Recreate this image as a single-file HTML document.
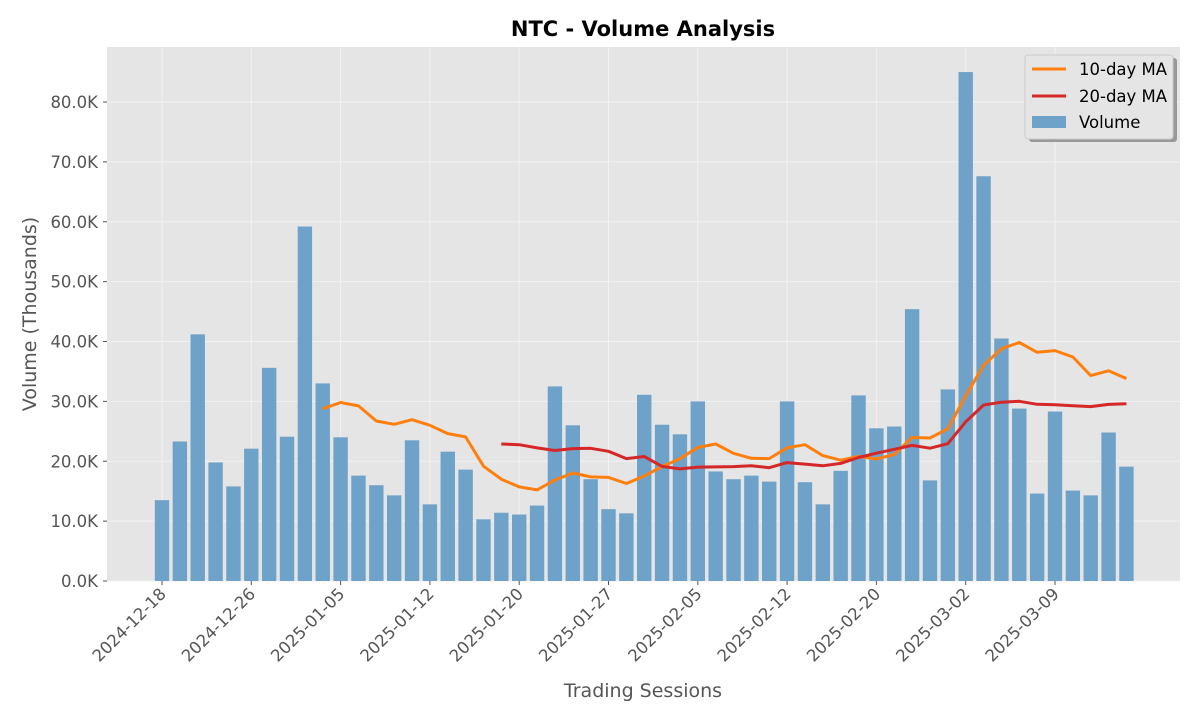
<!DOCTYPE html>
<html><head><meta charset="utf-8"><style>
html,body{margin:0;padding:0;background:#fff;}
svg{display:block;font-family:"DejaVu Sans","Liberation Sans",sans-serif;}
</style></head><body>
<svg id="chart" width="1200" height="720">
<rect x="107" y="47" width="1073" height="534" fill="#e5e5e5"/>
<g id="grid"></g><g id="bars"></g><g id="lines"></g><g id="axes"></g>
<text x="643" y="36" text-anchor="middle" font-size="21" font-weight="bold" fill="#000">NTC - Volume Analysis</text>
<text x="643" y="697" text-anchor="middle" font-size="19" fill="#555">Trading Sessions</text>
<text transform="translate(36,314) rotate(-90)" text-anchor="middle" font-size="19" fill="#555">Volume (Thousands)</text>
<g>
<rect x="1029" y="58" width="148" height="84" rx="3" fill="#999"/>
<rect x="1025" y="55" width="148" height="84" rx="3" fill="#e5e5e5" stroke="#ccc"/>
<line x1="1032" y1="69" x2="1066" y2="69" stroke="#ff7f0e" stroke-width="3"/>
<text x="1079" y="75" font-size="16.5" fill="#000">10-day MA</text>
<line x1="1032" y1="96" x2="1066" y2="96" stroke="#d62728" stroke-width="3"/>
<text x="1079" y="102" font-size="16.5" fill="#000">20-day MA</text>
<rect x="1032" y="116" width="34" height="12" fill="#6ea2c8"/>
<text x="1079" y="128" font-size="16.5" fill="#000">Volume</text>
</g>
</svg>
<script>
const volumes=[13.5,23.3,41.2,19.8,15.8,22.1,35.6,24.1,59.2,33.0,24.0,17.6,16.0,14.3,23.5,12.8,21.6,18.6,10.3,11.4,11.1,12.6,32.5,26.0,17.0,12.0,11.3,31.1,26.1,24.5,30.0,18.3,17.0,17.6,16.6,30.0,16.5,12.8,18.4,31.0,25.5,25.8,45.4,16.8,32.0,85.0,67.6,40.5,28.8,14.6,28.3,15.1,14.3,24.8,19.1];
const tickLabels=["2024-12-18","2024-12-26","2025-01-05","2025-01-12","2025-01-20","2025-01-27","2025-02-05","2025-02-12","2025-02-20","2025-03-02","2025-03-09"];
const yTicks=[0,10,20,30,40,50,60,70,80];
const NS="http://www.w3.org/2000/svg";
function X(i){return 162+i*17.86;}
function Y(v){return 581-v*5.9875;}
function mk(tag,attrs,parent,txt){const e=document.createElementNS(NS,tag);for(const k in attrs)e.setAttribute(k,attrs[k]);if(txt!==undefined)e.textContent=txt;document.getElementById(parent).appendChild(e);return e;}
yTicks.forEach(t=>{
  const g=mk('line',{x1:107,x2:1180,y1:Y(t),y2:Y(t),stroke:'#f2f2f2','stroke-width':1},'grid');
  
  
  mk('line',{x1:103,x2:107,y1:Y(t),y2:Y(t),stroke:'#555'},'axes');
  const l=mk('text',{x:98,y:Y(t)+6,'text-anchor':'end','font-size':'16.5',fill:'#555'},'axes',t.toFixed(1)+'K');
  
  
});
tickLabels.forEach((s,k)=>{
  const x=X(k*5);
  const g=mk('line',{x1:x,x2:x,y1:47,y2:581,stroke:'#f2f2f2','stroke-width':1},'grid');
  
  
  mk('line',{x1:x,x2:x,y1:581,y2:585,stroke:'#555'},'axes');
  const l=mk('text',{x:x+5,y:595,'text-anchor':'end','font-size':'16.5',fill:'#555',transform:`rotate(-45 ${x+5} 595)`},'axes',s);
  
  
});
volumes.forEach((v,i)=>{
  const b=mk('rect',{x:X(i)-7.2,y:Y(v),width:14.4,height:v*5.9875,fill:'#6ea2c8'},'bars');
  
  
});
function ma(n){const pts=[];for(let i=n-1;i<volumes.length;i++){let s=0;for(let j=i-n+1;j<=i;j++)s+=volumes[j];pts.push(X(i).toFixed(1)+','+Y(s/n).toFixed(1));}return pts.join(' ');}
const l10=mk('polyline',{points:ma(10),fill:'none',stroke:'#ff7f0e','stroke-width':3,'stroke-linejoin':'round'},'lines');


const l20=mk('polyline',{points:ma(20),fill:'none',stroke:'#d62728','stroke-width':3,'stroke-linejoin':'round'},'lines');


</script>
</body></html>
